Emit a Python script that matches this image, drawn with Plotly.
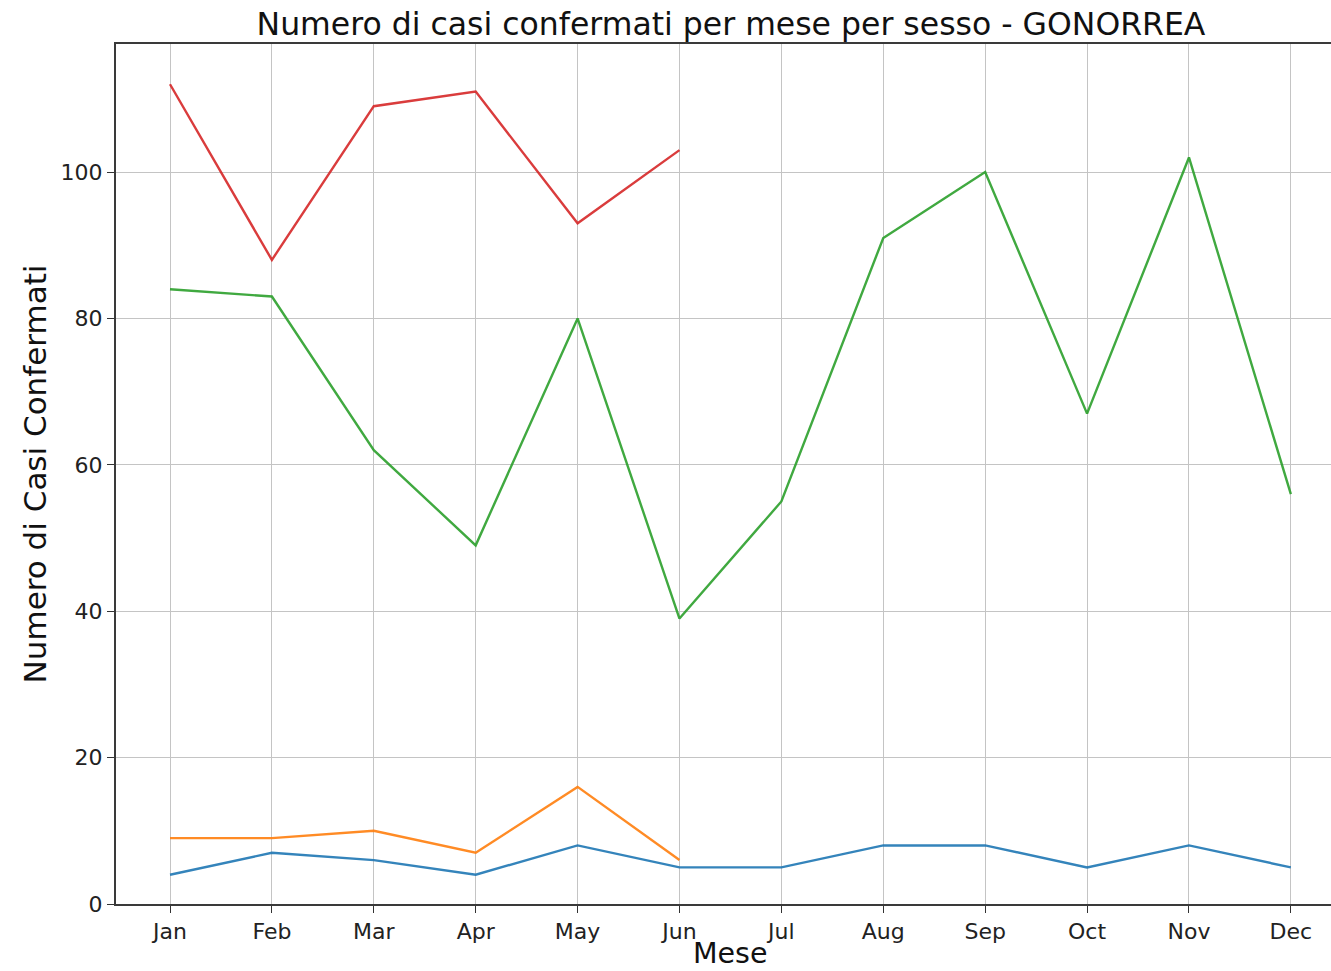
import plotly.graph_objects as go

months = ["Jan", "Feb", "Mar", "Apr", "May", "Jun", "Jul", "Aug", "Sep", "Oct", "Nov", "Dec"]
month_idx = list(range(12))

femmine_a = [4, 7, 6, 4, 8, 5, 5, 8, 8, 5, 8, 5]
femmine_b = [9, 9, 10, 7, 16, 6]
maschi_a = [84, 83, 62, 49, 80, 39, 55, 91, 100, 67, 102, 56]
maschi_b = [112, 88, 109, 111, 93, 103]

y_ticks = [0, 20, 40, 60, 80, 100]

series = [
    ("Femmine (anno 1)", femmine_a, "#1f77b4"),
    ("Femmine (anno 2)", femmine_b, "#ff7f0e"),
    ("Maschi (anno 1)", maschi_a, "#2ca02c"),
    ("Maschi (anno 2)", maschi_b, "#d62728"),
]

FONT = "DejaVu Sans"
fig = go.Figure()
for name, vals, color in series:
    fig.add_trace(go.Scatter(
        x=month_idx[:len(vals)], y=vals, mode="lines", name=name,
        line=dict(color=color, width=2.4), opacity=0.9, showlegend=False,
    ))

W, H = 1331, 971
L, T, B = 116, 44, 67
plot_w = W - L
plot_h = H - T - B
fig.update_layout(
    width=W, height=H,
    margin=dict(l=L, r=0, t=T, b=B),
    paper_bgcolor="white", plot_bgcolor="white",
    font=dict(family=FONT, color="#222222"),
    title=dict(
        text="Numero di casi confermati per mese per sesso - GONORREA",
        font=dict(family=FONT, size=31.5, color="#111111"),
        xref="container", x=731 / W, xanchor="center",
        yref="container", y=1 - 24 / H, yanchor="middle",
    ),
    annotations=[dict(
        text="Mese", xref="paper", yref="paper",
        x=(730 - L) / plot_w, y=(H - B - 953) / plot_h, xanchor="center", yanchor="middle",
        showarrow=False, font=dict(family=FONT, size=28.5, color="#111111"),
    )],
)

fig.update_xaxes(
    range=[-0.53, 11.394],
    tickmode="array", tickvals=month_idx, ticktext=months,
    tickfont=dict(family=FONT, size=22, color="#222222"),
    ticks="outside", ticklen=7, tickwidth=1.4, tickcolor="#333333",
    showline=True, linecolor="#3a3a3a", linewidth=2, mirror=True,
    showgrid=True, gridcolor="#c4c4c4", gridwidth=1.3,
    zeroline=False,
)
fig.update_yaxes(
    range=[0, 117.5],
    tickmode="array", tickvals=y_ticks,
    tickfont=dict(family=FONT, size=22, color="#222222"),
    ticks="outside", ticklen=7, tickwidth=1.4, tickcolor="#333333",
    showline=True, linecolor="#3a3a3a", linewidth=2, mirror=False,
    showgrid=True, gridcolor="#c4c4c4", gridwidth=1.3,
    zeroline=False,
    title=dict(text="Numero di Casi Confermati", font=dict(family=FONT, size=31, color="#111111"), standoff=5),
)

fig.write_html("out.html", config={"displayModeBar": False},
               post_script="document.body.style.margin='0';")
